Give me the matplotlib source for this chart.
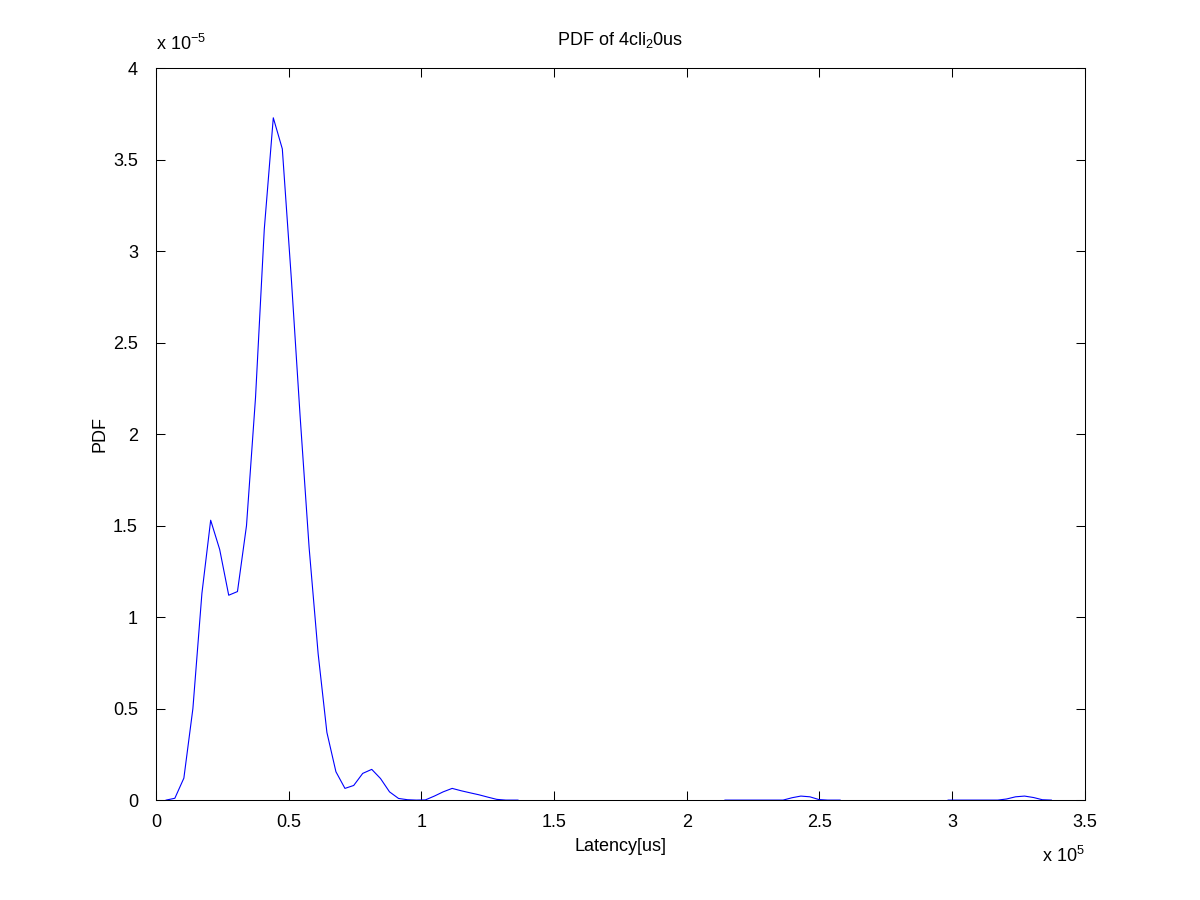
import numpy as np
import matplotlib
matplotlib.use("Agg")
import matplotlib.pyplot as plt

# latency in units of 1e5 us, pdf in units of 1e-5
seg1_x = [0.038, 0.071, 0.105, 0.139, 0.173, 0.206, 0.240, 0.274, 0.307, 0.341,
          0.375, 0.408, 0.442, 0.476, 0.510, 0.543, 0.577, 0.611, 0.644, 0.678,
          0.712, 0.745, 0.779, 0.813, 0.846, 0.880, 0.914, 0.948, 0.981, 1.015,
          1.049, 1.082, 1.116, 1.150, 1.183, 1.217, 1.251, 1.284, 1.318, 1.364]
seg1_y = [0.00, 0.01, 0.12, 0.50, 1.13, 1.53, 1.37, 1.12, 1.14, 1.50,
          2.20, 3.12, 3.73, 3.56, 2.85, 2.10, 1.38, 0.80, 0.37, 0.155,
          0.064, 0.080, 0.146, 0.168, 0.118, 0.045, 0.009, 0.002, 0.0, 0.001,
          0.022, 0.045, 0.064, 0.051, 0.040, 0.029, 0.016, 0.004, 0.0, 0.0]

seg2_x = [2.144, 2.363, 2.397, 2.430, 2.464, 2.498, 2.531, 2.578]
seg2_y = [0.0, 0.0, 0.013, 0.022, 0.018, 0.003, 0.0, 0.0]

seg3_x = [2.985, 3.172, 3.205, 3.239, 3.273, 3.307, 3.340, 3.374]
seg3_y = [0.0, 0.0, 0.006, 0.018, 0.022, 0.014, 0.002, 0.0]

x_ticks = [0, 0.5, 1, 1.5, 2, 2.5, 3, 3.5]
x_labels = ["0", "0.5", "1", "1.5", "2", "2.5", "3", "3.5"]
y_ticks = [0, 0.5, 1, 1.5, 2, 2.5, 3, 3.5, 4]
y_labels = ["0", "0.5", "1", "1.5", "2", "2.5", "3", "3.5", "4"]

plt.rcParams["font.family"] = ["Liberation Sans", "DejaVu Sans"]
plt.rcParams["mathtext.default"] = "regular"

fig = plt.figure(figsize=(12, 9), dpi=100)
ax = fig.add_axes([0.13, 0.111, 0.774, 0.813])

for xs, ys in [(seg1_x, seg1_y), (seg2_x, seg2_y), (seg3_x, seg3_y)]:
    ax.plot(xs, ys, color="#0000ff", lw=0.8)

ax.set_xlim(0, 3.5)
ax.set_ylim(0, 4)
ax.set_xticks(x_ticks)
ax.set_xticklabels(x_labels)
ax.set_yticks(y_ticks)
ax.set_yticklabels(y_labels)
ax.tick_params(direction="in", length=6.5, width=0.75, top=True, right=True,
               labelsize=13)
ax.tick_params(axis="x", pad=10)
ax.tick_params(axis="y", pad=13)
for s in ax.spines.values():
    s.set_linewidth(0.75)

ax.set_title("PDF of 4cli$_2$0us", fontsize=13, pad=17)
ax.set_xlabel("Latency[us]", fontsize=13, labelpad=5)
ax.set_ylabel("PDF", fontsize=13, labelpad=3)

ax.text(0.0, 1.02, "x 10$^{-5}$", transform=ax.transAxes, ha="left",
        va="bottom", fontsize=13)
ax.text(1.0, -0.062, "x 10$^{5}$", transform=ax.transAxes, ha="right",
        va="top", fontsize=13)

plt.savefig("out.png", dpi=100)
